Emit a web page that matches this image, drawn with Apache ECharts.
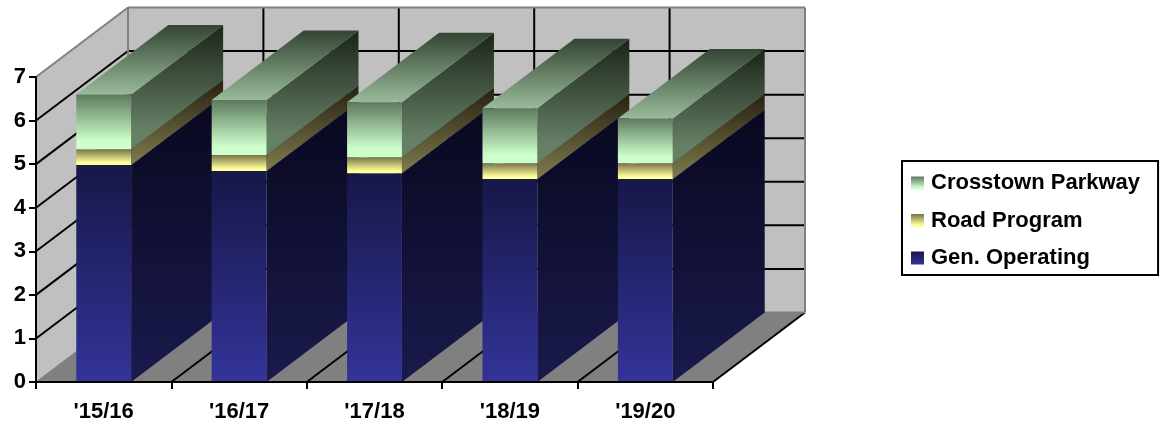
<!DOCTYPE html>
<html>
<head>
<meta charset="utf-8">
<style>html,body{margin:0;padding:0;background:#fff}#chart{width:1167px;height:422px}</style>
<script src="https://cdn.jsdelivr.net/npm/echarts@6/dist/echarts.min.js"></script>
</head>
<body>
<div id="chart"></div>
<script>
// Budget by fiscal year, stacked by funding source
const categories = ["'15/16", "'16/17", "'17/18", "'18/19", "'19/20"];
const genOperating = [4.98, 4.84, 4.79, 4.66, 4.66];
const roadProgram = [0.36, 0.37, 0.37, 0.36, 0.36];
const crosstownParkway = [1.26, 1.26, 1.26, 1.26, 1.03];
const valueTicks = [0, 1, 2, 3, 4, 5, 6, 7];

// Oblique projection used for the box: every depth edge runs along this vector
const DEPTH_X = 92, DEPTH_Y = -69.5;
const BAR_WIDTH_RATIO = 0.405;
const FONT = '"Liberation Sans", Arial, sans-serif';

const vGrad = (top, bottom, end) => new echarts.graphic.LinearGradient(0, 0, 0, 1, [
  { offset: 0, color: top }, { offset: end || 1, color: bottom }, { offset: 1, color: bottom }
]);

const faces = {
  gen: { front: ['#171748', '#333399', 1], side: ['#08081f', '#1a1a4d', 1], top: ['#08081f', '#171748', 1] },
  road: { front: ['#787348', '#ffff99', 0.85], side: ['#262011', '#807c4d', 1], top: ['#262011', '#787348', 1] },
  cross: { front: ['#5e795e', '#ccffcc', 0.85], side: ['#1b2419', '#668066', 0.85], top: ['#334433', '#99bb99', 1] }
};

const back = p => [p[0] + DEPTH_X, p[1] + DEPTH_Y];

function wallItem(params, api) {
  const band = api.size([1, 0])[0];
  const o0 = api.coord([0, 0]);
  const left = o0[0] - band / 2;
  const right = left + band * categories.length;
  const yOf = v => api.coord([0, v])[1];
  const y0 = yOf(valueTicks[0]);
  const yMax = yOf(valueTicks[valueTicks.length - 1]);
  const grey = '#808080', black = '#000';
  const poly = (pts, fill, z2) => ({ type: 'polygon', z2, shape: { points: pts }, style: { fill } });
  const seg = (a, b, stroke, w, z2) => ({
    type: 'line', z2, shape: { x1: a[0], y1: a[1], x2: b[0], y2: b[1] }, style: { stroke, lineWidth: w }
  });
  const kids = [];
  const FL = [left, y0], FR = [right, y0], TL = [left, yMax];
  // Back wall, side wall and floor
  kids.push(poly([back(TL), back([right, yMax]), back(FR), back(FL)], '#c0c0c0', 0));
  kids.push(poly([FL, TL, back(TL), back(FL)], '#c0c0c0', 0));
  kids.push(poly([FL, FR, back(FR), back(FL)], '#808080', 0));
  // Value gridlines run along the side wall and across the back wall
  valueTicks.slice(1, -1).forEach(v => {
    const p = [left, yOf(v)];
    kids.push(seg(p, back(p), black, 2, 1));
    kids.push(seg(back(p), back([right, yOf(v)]), black, 2, 1));
  });
  // Category gridlines run along the floor and up the back wall
  categories.forEach((c, i) => {
    const x = left + band * (i + 1);
    kids.push(seg([x, y0], back([x, y0]), black, 2, 1));
    if (i < categories.length - 1) kids.push(seg(back([x, y0]), back([x, yMax]), black, 2, 1));
  });
  // Box outline
  kids.push(seg(TL, back(TL), grey, 2, 2));
  kids.push(seg(back(TL), back([right, yMax]), grey, 2, 2));
  kids.push(seg(back(TL), back(FL), grey, 2, 2));
  kids.push(seg(back([right, yMax]), back(FR), grey, 2, 2));
  kids.push(seg(back(FL), back(FR), grey, 2, 2));
  kids.push(seg(FL, back(FL), grey, 1, 2));
  return { type: 'group', children: kids };
}

// One stack segment: side, top and front faces of a box between two values
function boxRenderer(face, layer) {
  return function (params, api) {
    const i = api.value(0);
    const c0 = api.coord([i, api.value(1)]);
    const c1 = api.coord([i, api.value(2)]);
    const w = api.size([1, 0])[0] * BAR_WIDTH_RATIO;
    const l = c0[0] - w / 2, r = c0[0] + w / 2;
    const bl = [l, c0[1]], br = [r, c0[1]], tl = [l, c1[1]], tr = [r, c1[1]];
    // Later categories and higher segments paint over earlier ones
    const z2 = 10 + i * 10 + layer;
    return {
      type: 'group',
      children: [
        { type: 'polygon', z2, shape: { points: [br, tr, back(tr), back(br)] },
          style: { fill: vGrad(...face.side) } },
        { type: 'polygon', z2, shape: { points: [tl, tr, back(tr), back(tl)] },
          style: { fill: vGrad(...face.top) } },
        { type: 'polygon', z2: z2 + 1, shape: { points: [bl, br, tr, tl] },
          style: { fill: vGrad(...face.front) } }
      ]
    };
  };
}

// Lower and upper value of every segment, accumulated up the stack
function stackRows(values, under) {
  return values.map((v, i) => {
    const base = under.reduce((s, arr) => s + arr[i], 0);
    return [i, base, base + v];
  });
}

const boxSeries = (name, face, layer, values, under) => ({
  name, type: 'custom', silent: true, renderItem: boxRenderer(face, layer),
  encode: { x: 0, y: [1, 2] },
  itemStyle: { color: vGrad(...face.front) },
  data: stackRows(values, under)
});

const chart = echarts.init(document.getElementById('chart'));
chart.setOption({
  animation: false,
  backgroundColor: '#fff',
  grid: { left: 36, right: 454, top: 77, bottom: 40, outerBoundsMode: 'none' },
  xAxis: {
    type: 'category', data: categories, z: 5,
    axisLine: { show: true, lineStyle: { color: '#000', width: 2 } },
    axisTick: { show: true, length: 7, lineStyle: { color: '#000', width: 2 } },
    axisLabel: { color: '#000', fontFamily: FONT, fontWeight: 'bold', fontSize: 22, margin: 19, interval: 0 },
    splitLine: { show: false }
  },
  yAxis: {
    type: 'value', min: 0, max: 7, interval: 1, z: 5,
    axisLine: { show: true, lineStyle: { color: '#000', width: 2 } },
    axisTick: { show: true, length: 7, lineStyle: { color: '#000', width: 2 } },
    axisLabel: { color: '#000', fontFamily: FONT, fontWeight: 'bold', fontSize: 22, margin: 10, padding: [5, 0, 0, 0] },
    splitLine: { show: false }
  },
  legend: {
    orient: 'vertical', left: 902, top: 161,
    padding: [11, 18, 6, 9], itemGap: 15.5, itemWidth: 13, itemHeight: 13,
    icon: 'rect', borderColor: '#000', borderWidth: 2, backgroundColor: '#fff',
    selectedMode: false,
    textStyle: { color: '#000', fontFamily: FONT, fontWeight: 'bold', fontSize: 22, padding: [0, 0, 0, 2] },
    data: ['Crosstown Parkway', 'Road Program', 'Gen. Operating']
  },
  series: [
    { name: 'box', type: 'custom', silent: true, renderItem: wallItem, encode: { x: 0, y: 1 }, data: [[0, 0]] },
    boxSeries('Gen. Operating', faces.gen, 0, genOperating, []),
    boxSeries('Road Program', faces.road, 2, roadProgram, [genOperating]),
    boxSeries('Crosstown Parkway', faces.cross, 4, crosstownParkway, [genOperating, roadProgram])
  ]
});
</script>
</body>
</html>
